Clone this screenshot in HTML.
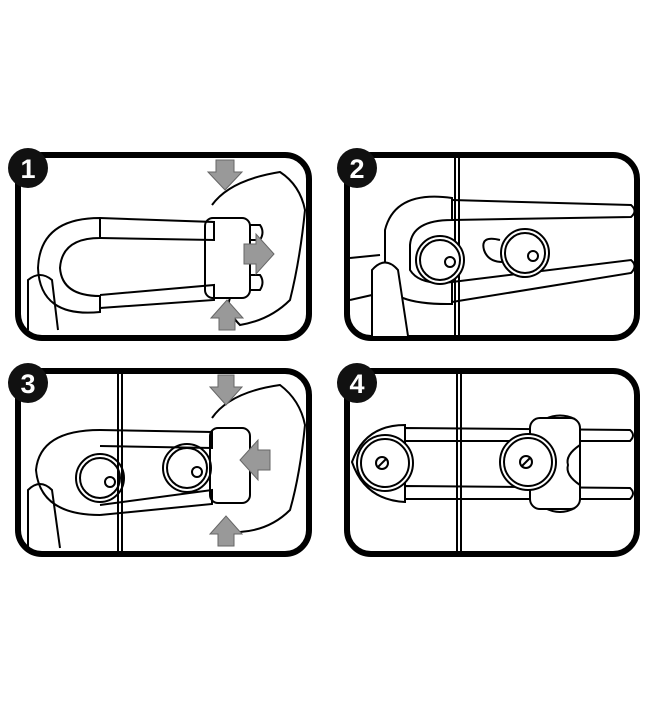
<!DOCTYPE html>
<html><head><meta charset="utf-8"><style>
html,body{margin:0;padding:0;background:#fff;width:650px;height:705px;overflow:hidden}
svg{display:block}
text{font-family:"Liberation Sans",sans-serif;font-weight:bold;fill:#fff}
</style></head><body>
<svg width="650" height="705" viewBox="0 0 650 705" xmlns="http://www.w3.org/2000/svg">
<g fill="none" stroke="#000" stroke-width="2">
<rect x="18" y="155" width="291" height="183" rx="24" stroke-width="6"/>
<rect x="347" y="155" width="290" height="183" rx="24" stroke-width="6"/>
<rect x="18" y="371" width="291" height="183" rx="24" stroke-width="6"/>
<rect x="347" y="371" width="290" height="183" rx="24" stroke-width="6"/>

<!-- PANEL 1 -->
<path d="M100 218 L214 222 L214 240 L100 238"/>
<path d="M100 295 L214 285 L214 300 L100 308"/>
<path d="M100 218 Q40 218 38 268 Q40 318 100 312 L100 296 Q62 296 60 268 Q62 238 100 238 Z"/>
<rect x="205" y="218" width="45" height="80" rx="8"/>
<path d="M250 225 L260 225 Q265 232 260 240 L250 240 M250 275 L260 275 Q265 282 260 290 L250 290"/>
<path d="M212 205 Q230 180 280 172 Q300 185 305 210 Q300 260 290 300 Q270 320 240 325 Q225 310 230 298"/>
<path d="M28 330 L28 280 Q40 270 52 280 L58 330"/>
<g fill="#999" stroke="#666" stroke-width="1">
<path d="M216 160 L234 160 L234 172 L242 172 L225 190 L208 172 L216 172 Z"/>
<path d="M244 244 L256 244 L256 234 L274 254 L256 274 L256 264 L244 264 Z"/>
<path d="M219 330 L235 330 L235 318 L243 318 L227 300 L211 318 L219 318 Z"/>
</g>

<!-- PANEL 2 -->
<line x1="455" y1="158" x2="455" y2="336"/><line x1="459" y1="158" x2="459" y2="336"/>
<path d="M452 200 L631 205 Q638 211 631 217 L452 220"/>
<path d="M452 282 L631 260 Q638 266 631 273 L452 302"/>
<path d="M452 198 Q395 190 385 230 L385 280 Q390 305 452 304 L452 282 Q420 286 410 270 L410 245 Q412 220 452 220 Z"/>
<circle cx="440" cy="260" r="24" fill="#fff"/><circle cx="440" cy="260" r="20"/>
<circle cx="450" cy="262" r="5"/>
<path d="M500 240 Q480 235 484 250 Q488 262 503 262"/>
<circle cx="525" cy="253" r="24" fill="#fff"/><circle cx="525" cy="253" r="20"/>
<circle cx="533" cy="256" r="5"/>
<path d="M350 258 L380 255 M350 300 L372 295"/>
<path d="M372 336 L372 270 Q385 255 398 270 L408 336" fill="#fff"/>

<!-- PANEL 3 -->
<line x1="118" y1="374" x2="118" y2="552"/><line x1="122" y1="374" x2="122" y2="552"/>
<path d="M100 430 L212 432 L212 448 L100 446"/>
<path d="M100 505 L212 490 L212 504 L100 515"/>
<path d="M100 430 Q40 430 36 470 Q40 515 100 515"/>
<circle cx="100" cy="478" r="24"/><circle cx="100" cy="478" r="20"/><circle cx="110" cy="482" r="5"/>
<circle cx="187" cy="468" r="24"/><circle cx="187" cy="468" r="20"/><circle cx="197" cy="472" r="5"/>
<rect x="210" y="428" width="40" height="75" rx="8"/>
<path d="M212 418 Q230 392 280 385 Q300 400 305 425 Q300 475 290 510 Q270 530 240 532"/>
<path d="M28 548 L28 490 Q40 478 52 490 L60 548"/>
<g fill="#999" stroke="#666" stroke-width="1">
<path d="M218 375 L234 375 L234 387 L242 387 L226 405 L210 387 L218 387 Z"/>
<path d="M270 450 L258 450 L258 440 L240 460 L258 480 L258 470 L270 470 Z"/>
<path d="M218 546 L234 546 L234 534 L242 534 L226 516 L210 534 L218 534 Z"/>
</g>

<!-- PANEL 4 -->
<line x1="457" y1="374" x2="457" y2="552"/><line x1="461" y1="374" x2="461" y2="552"/>
<path d="M405 428 L630 430 Q636 435 630 441 L405 441 Z"/>
<path d="M405 486 L630 488 Q636 493 630 499 L405 499 Z"/>
<path d="M405 425 Q365 425 352 462 Q365 500 405 502 Z"/>
<circle cx="385" cy="463" r="28" fill="#fff"/><circle cx="385" cy="463" r="24"/>
<circle cx="382" cy="463" r="6"/><line x1="378" y1="467" x2="386" y2="459"/>
<path d="M545 419 Q560 412 575 419 M545 508 Q560 516 575 508"/>
<rect x="530" y="418" width="50" height="91" rx="10" fill="#fff"/>
<path d="M580 445 Q565 455 568 465 Q565 475 580 485"/>
<circle cx="528" cy="462" r="28" fill="#fff"/><circle cx="528" cy="462" r="24"/>
<circle cx="526" cy="462" r="6"/><line x1="522" y1="466" x2="530" y2="458"/>
</g>
<g fill="#111">
<circle cx="28" cy="168" r="20"/><circle cx="357" cy="168" r="20"/>
<circle cx="28" cy="383" r="20"/><circle cx="357" cy="383" r="20"/>
</g>
<text x="28" y="178" font-size="27" text-anchor="middle">1</text>
<text x="357" y="178" font-size="27" text-anchor="middle">2</text>
<text x="28" y="393" font-size="27" text-anchor="middle">3</text>
<text x="357" y="393" font-size="27" text-anchor="middle">4</text>
</svg>
</body></html>
